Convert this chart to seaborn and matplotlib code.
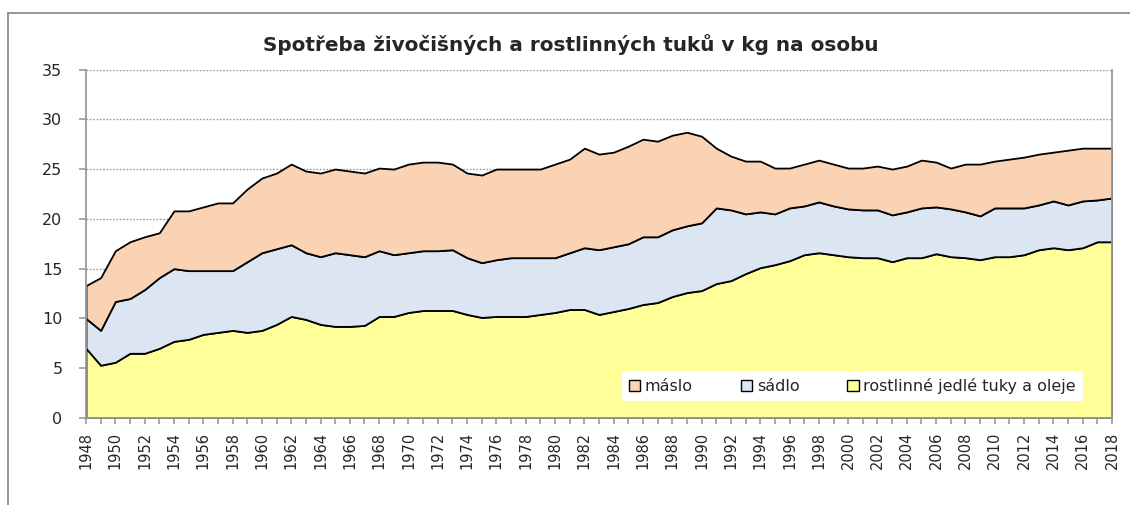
import matplotlib
matplotlib.use("Agg")
import matplotlib.pyplot as plt
from matplotlib.patches import Patch
from matplotlib.lines import Line2D
import seaborn as sns
import numpy as np

years = list(range(1948, 2019))

rostlinne = [7.0, 5.3, 5.6, 6.5, 6.5, 7.0, 7.7, 7.9, 8.4, 8.6, 8.8,
             8.6, 8.8, 9.4, 10.2, 9.9, 9.4, 9.2, 9.2, 9.3, 10.2, 10.2, 10.6,
             10.8, 10.8, 10.8, 10.4, 10.1, 10.2, 10.2, 10.2, 10.4, 10.6,
             10.9, 10.9, 10.4, 10.7, 11.0, 11.4, 11.6, 12.2, 12.6, 12.8,
             13.5, 13.8, 14.5, 15.1, 15.4, 15.8, 16.4, 16.6, 16.4, 16.2,
             16.1, 16.1, 15.7, 16.1, 16.1, 16.5, 16.2, 16.1, 15.9, 16.2,
             16.2, 16.4, 16.9, 17.1, 16.9, 17.1, 17.7, 17.7]

sadlo = [3.0, 3.5, 6.1, 5.5, 6.4, 7.1, 7.3, 6.9, 6.4, 6.2, 6.0,
         7.1, 7.8, 7.6, 7.2, 6.7, 6.8, 7.4, 7.2, 6.9, 6.6, 6.2, 6.0,
         6.0, 6.0, 6.1, 5.7, 5.5, 5.7, 5.9, 5.9, 5.7, 5.5,
         5.7, 6.2, 6.5, 6.5, 6.5, 6.8, 6.6, 6.7, 6.7, 6.8,
         7.6, 7.1, 6.0, 5.6, 5.1, 5.3, 4.9, 5.1, 4.9, 4.8,
         4.8, 4.8, 4.7, 4.6, 5.0, 4.7, 4.8, 4.6, 4.4, 4.9,
         4.9, 4.7, 4.5, 4.7, 4.5, 4.7, 4.2, 4.4]

maslo = [3.3, 5.3, 5.1, 5.7, 5.3, 4.5, 5.8, 6.0, 6.4, 6.8, 6.8,
         7.3, 7.5, 7.6, 8.1, 8.2, 8.4, 8.4, 8.4, 8.4, 8.3, 8.6, 8.9,
         8.9, 8.9, 8.6, 8.5, 8.8, 9.1, 8.9, 8.9, 8.9, 9.4,
         9.4, 10.0, 9.6, 9.5, 9.8, 9.8, 9.6, 9.5, 9.4, 8.7,
         6.0, 5.4, 5.3, 5.1, 4.6, 4.0, 4.2, 4.2, 4.2, 4.1,
         4.2, 4.4, 4.6, 4.6, 4.8, 4.5, 4.1, 4.8, 5.2, 4.7,
         4.9, 5.1, 5.1, 4.9, 5.5, 5.3, 5.2, 5.0]

series_names = ["máslo", "sádlo", "rostlinné jedlé tuky a oleje"]
colors = {"máslo": "#FAD3B4", "sádlo": "#DCE6F2", "rostlinné jedlé tuky a oleje": "#FFFF99"}
title = "Spotřeba živočišných a rostlinných tuků v kg na osobu"
y_ticks = [0, 5, 10, 15, 20, 25, 30, 35]
x_label_years = list(range(1948, 2019, 2))

sns.set_style("white")
plt.rcParams["font.family"] = ["DejaVu Sans"]

fig = plt.figure(figsize=(11.3, 5.05), dpi=100)
ax = fig.add_axes([86 / 1130, 1 - 418 / 505, (1112 - 86) / 1130, (418 - 69.5) / 505])

# outer chart frame (left and top visible)
fig.add_artist(Line2D([8 / 1130, 8 / 1130], [0, 1 - 13 / 505], transform=fig.transFigure,
                      color="#8c8c8c", lw=1.3))
fig.add_artist(Line2D([8 / 1130, 1.0], [1 - 13 / 505, 1 - 13 / 505], transform=fig.transFigure,
                      color="#8c8c8c", lw=1.3))

ax.stackplot(years, rostlinne, sadlo, maslo,
             colors=[colors["rostlinné jedlé tuky a oleje"], colors["sádlo"], colors["máslo"]],
             edgecolor="black", linewidth=1.3, zorder=2)

ax.set_xlim(1948, 2018)
ax.set_ylim(0, 35)
ax.set_yticks(y_ticks)
ax.set_yticklabels([str(v) for v in y_ticks], fontsize=11.5)
ax.set_xticks(years, minor=True)
ax.set_xticks(x_label_years)
ax.set_xticklabels([str(y) for y in x_label_years], rotation=90, fontsize=10.5)

ax.grid(axis="y", color="#9a9a9a", linestyle=(0, (1.2, 1.2)), linewidth=1.0, zorder=1)
ax.set_axisbelow(True)

for side in ["left", "bottom", "right", "top"]:
    ax.spines[side].set_visible(True)
    ax.spines[side].set_color("#9a9a9a")
    ax.spines[side].set_linewidth(1.3)
ax.spines["top"].set_visible(False)
ax.spines["left"].set_zorder(3)
ax.spines["bottom"].set_zorder(3)

ax.tick_params(axis="y", which="major", direction="out", length=5, width=1.2, color="#9a9a9a",
               pad=12, left=True)
ax.tick_params(axis="x", which="both", direction="out", length=4, width=1.2, color="#9a9a9a",
               bottom=True, pad=6)

fig.text(571 / 1130, 1 - 45 / 505, title, fontsize=14.4, fontweight="bold",
         ha="center", va="center")

handles = [Patch(facecolor=colors[n], edgecolor="black", linewidth=1.0, label=n) for n in series_names]
leg = ax.legend(handles=handles, loc="center", bbox_to_anchor=(0.747, 0.092), ncol=3,
                frameon=True, fancybox=False, framealpha=1, facecolor="white", edgecolor="none",
                fontsize=11.5, handlelength=0.7, handleheight=0.7, handletextpad=0.3,
                columnspacing=3.0, borderpad=0.45)
leg.set_zorder(5)

fig.savefig("out.png", dpi=100)
